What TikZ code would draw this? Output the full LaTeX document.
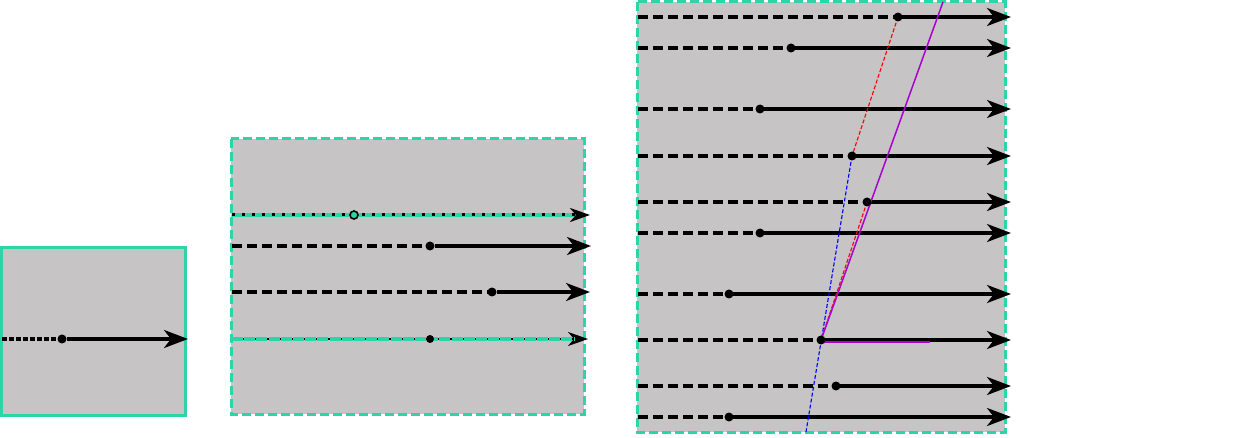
\documentclass[tikz,border=0pt]{standalone}
\usetikzlibrary{arrows.meta}
\definecolor{tealb}{RGB}{44,212,168}
\definecolor{panelgray}{RGB}{198,196,197}
\definecolor{purp}{RGB}{170,0,210}
\begin{document}
\begin{tikzpicture}[x=1pt,y=-1pt,
  panelsolid/.style={fill=panelgray, draw=tealb, line width=3pt},
  paneldash/.style={fill=panelgray, draw=tealb, line width=3pt, dash pattern=on 9pt off 4pt},
  ray/.style={line width=3.2pt, -{Stealth[length=24pt,width=18pt,inset=7pt]}},
  smallray/.style={line width=1.5pt, -{Stealth[length=20pt,width=14pt,inset=6pt]}},
  back/.style={line width=3.2pt, dash pattern=on 10pt off 5pt},
  backdense/.style={line width=3.2pt, dash pattern=on 5pt off 2pt},
  dot/.style={circle, fill=black, inner sep=0pt, minimum size=9pt},
  ringdot/.style={circle, draw=black, fill=tealb, line width=1.6pt, inner sep=0pt, minimum size=8pt},
  reddash/.style={red, line width=1.1pt, dash pattern=on 4pt off 2pt},
  bluedash/.style={blue, line width=1.1pt, dash pattern=on 4pt off 2pt},
  purpline/.style={purp, line width=1.5pt}]
\useasboundingbox (0,0) rectangle (1237,438);

% ---------- panel 1 ----------
\filldraw[panelsolid] (1.5,247.5) rectangle (185,415);
\coordinate (p1s) at (2,339);
\node[dot] (p1d) at (62,339) {};
\coordinate (p1e) at (188,339);
\draw[backdense] (p1s) -- (p1d);
\draw[ray] (p1d) -- (p1e);

% ---------- panel 2 ----------
\filldraw[paneldash] (231,139) rectangle (584,414);
% line 1 (teal with black dots)
\coordinate (q1s) at (232,215);
\coordinate (q1e) at (590,215);
\coordinate (q1t) at (576,215);
\draw[tealb, line width=3.5pt] (q1s) -- (q1t);
\draw[smallray, line width=3pt, dash pattern=on 3pt off 7pt] (q1s) -- (q1e);
\node[ringdot] (q1d) at (354,215) {};
% line 2
\coordinate (q2s) at (232,246);
\node[dot] (q2d) at (430,246) {};
\coordinate (q2e) at (591,246);
\draw[back] (q2s) -- (q2d);
\draw[ray] (q2d) -- (q2e);
% line 3
\coordinate (q3s) at (232,292);
\node[dot] (q3d) at (492,292) {};
\coordinate (q3e) at (590,292);
\draw[back] (q3s) -- (q3d);
\draw[ray] (q3d) -- (q3e);
% line 4 (teal)
\coordinate (q4s) at (232,339);
\coordinate (q4e) at (588,339);
\coordinate (q4t) at (574,339);
\draw[smallray] (q4s) -- (q4e);
\draw[tealb, line width=3.2pt, dash pattern=on 11pt off 1.2pt] (q4s) -- (q4t);
\node[dot, minimum size=8pt] (q4d) at (430,339) {};

% ---------- panel 3 ----------
\filldraw[paneldash] (637,2) rectangle (1005,432);
\foreach \i/\y/\x in {1/17/898, 2/48/791, 3/109/760, 4/156/852, 5/202/867,
                      6/233/760, 7/294/729, 8/340/821, 9/386/836, 10/417/729} {
  \coordinate (r\i s) at (638,\y);
  \coordinate (r\i d) at (\x,\y);
  \coordinate (r\i e) at (1011,\y);
  \draw[back] (r\i s) -- (r\i d);
  \draw[ray] (r\i d) -- (r\i e);
}
\coordinate (blueend) at (806,432);
\coordinate (purptop) at (943,2);
\coordinate (purph) at (930,342);
\coordinate (r8dp) at (821,342);
\draw[reddash] (r1d) -- (r4d);
\draw[reddash] (r5d) -- (r8d);
\draw[bluedash] (r4d) -- (blueend);
\draw[purpline] (r8d) -- (purptop);
\draw[purpline] (r8dp) -- (purph);
\foreach \i in {1,...,10} {
  \node[dot] (r\i n) at (r\i d) {};
}
\end{tikzpicture}
\end{document}
